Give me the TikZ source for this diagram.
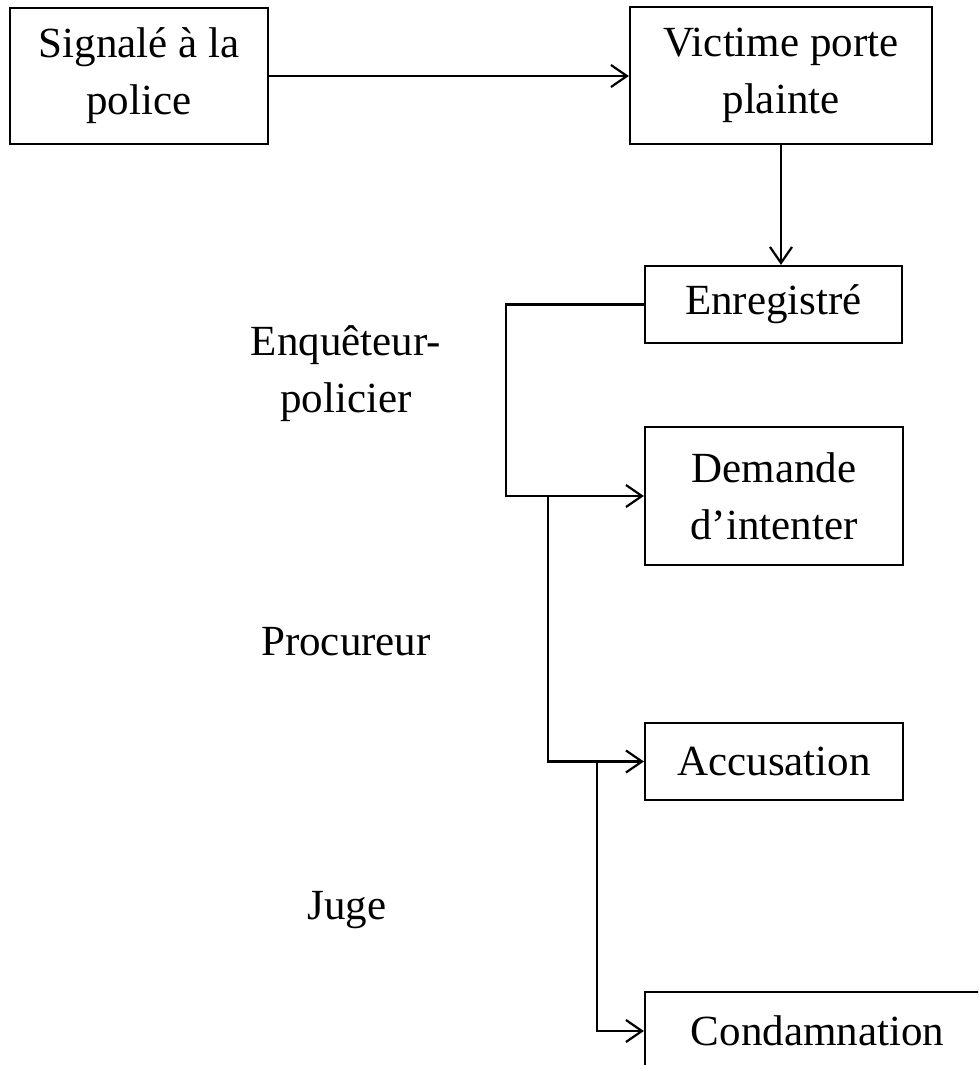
\documentclass[tikz,border=0pt]{standalone}
\usepackage{fontspec}
\setmainfont{Liberation Serif}
\usetikzlibrary{arrows.meta}
\begin{document}
\begin{tikzpicture}[x=1pt,y=-1pt,
  every node/.style={font=\fontsize{43}{57}\selectfont, align=center, inner sep=0pt},
  box/.style={draw, line width=2.2pt},
  link/.style={line width=2.2pt},
  arr/.style={link, -{Straight Barb[length=16pt,width=22pt,line width=2.2pt]}}]
\clip (0,0) rectangle (978,1065);
\fill[white] (0,0) rectangle (978,1065);
\node[box, minimum width=258pt, minimum height=136pt] (b1) at (139,76) {Signalé à la\\police};
\node[box, minimum width=302pt, minimum height=137pt] (b2) at (781,75.5) {Victime porte\\plainte};
\node[box, minimum width=257pt, minimum height=77pt] (b3) at (773.5,304.5) {Enregistré};
\node[box, minimum width=258pt, minimum height=138pt] (b4) at (774,496) {Demande\\d’intenter};
\node[box, minimum width=258pt, minimum height=77pt] (b5) at (774,761.5) {Accusation};
\node[box, minimum width=345pt, minimum height=78pt] (b6) at (817.5,1031) {Condamnation};
\node (l1) at (346,374) {Enquêteur-\\policier};
\node[anchor=base] (l2) at (346,655) {Procureur};
\node[anchor=base] (l3) at (347,919) {Juge};
\coordinate (v1) at (506,400);
\coordinate (v2) at (548,496);
\coordinate (v3) at (597,761.5);
\draw[arr] (b1.east) -- (b1.east -| b2.west);
\draw[arr] (b2.south) -- (b2.south |- b3.north);
\draw[arr] (b3.west) -| (v1) |- (b4.west);
\draw[arr] (v2) |- (b5.west);
\draw[arr] (v3) |- (b6.west);
\end{tikzpicture}
\end{document}
